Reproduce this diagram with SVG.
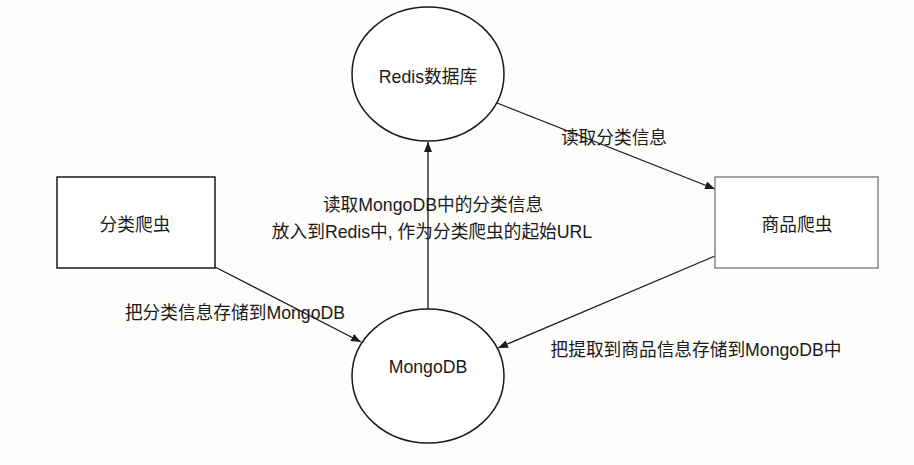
<svg xmlns="http://www.w3.org/2000/svg" width="914" height="465" viewBox="0 0 914 465">
<style>
.node{fill:#ffffff;stroke:#1a1a1a;stroke-width:1.5}
.node2{fill:#ffffff;stroke:#777777;stroke-width:1.3}
.edge{fill:none;stroke:#1a1a1a;stroke-width:1.3}
text{font-family:"Liberation Sans","Noto Sans CJK SC",sans-serif;font-size:17.7px;fill:#1a1a1a;text-anchor:middle;dominant-baseline:central}
</style>
<defs>
<marker id="arr" viewBox="0 0 10 8" refX="10" refY="4" markerWidth="10" markerHeight="8" markerUnits="userSpaceOnUse" orient="auto">
<path d="M0,0 L10,4 L0,8 Z" fill="#1a1a1a"/>
</marker>
</defs>
<rect width="914" height="465" fill="#fdfdfc"/>
<g id="edges">
<line class="edge" x1="497" y1="103" x2="715" y2="189" marker-end="url(#arr)"/>
<line class="edge" x1="428" y1="309" x2="428" y2="142" marker-end="url(#arr)"/>
<line class="edge" x1="215" y1="267" x2="361" y2="342" marker-end="url(#arr)"/>
<line class="edge" x1="715" y1="256" x2="498" y2="348" marker-end="url(#arr)"/>
<text x="614" y="138">读取分类信息</text>
<text x="433" y="205">读取MongoDB中的分类信息</text>
<text x="432" y="232">放入到Redis中, 作为分类爬虫的起始URL</text>
<text x="235" y="313">把分类信息存储到MongoDB</text>
<text x="696" y="350">把提取到商品信息存储到MongoDB中</text>
</g>
<g id="redis">
<ellipse class="node" cx="428" cy="74" rx="76" ry="67"/>
<text x="428" y="77">Redis数据库</text>
</g>
<g id="mongodb">
<ellipse class="node" cx="428" cy="376" rx="76" ry="67"/>
<text x="428" y="367">MongoDB</text>
</g>
<g id="category-spider">
<rect class="node" x="57" y="177" width="158" height="91"/>
<text x="135" y="225">分类爬虫</text>
</g>
<g id="product-spider">
<rect class="node2" x="715" y="177" width="163" height="91"/>
<text x="797" y="225">商品爬虫</text>
</g>
</svg>
